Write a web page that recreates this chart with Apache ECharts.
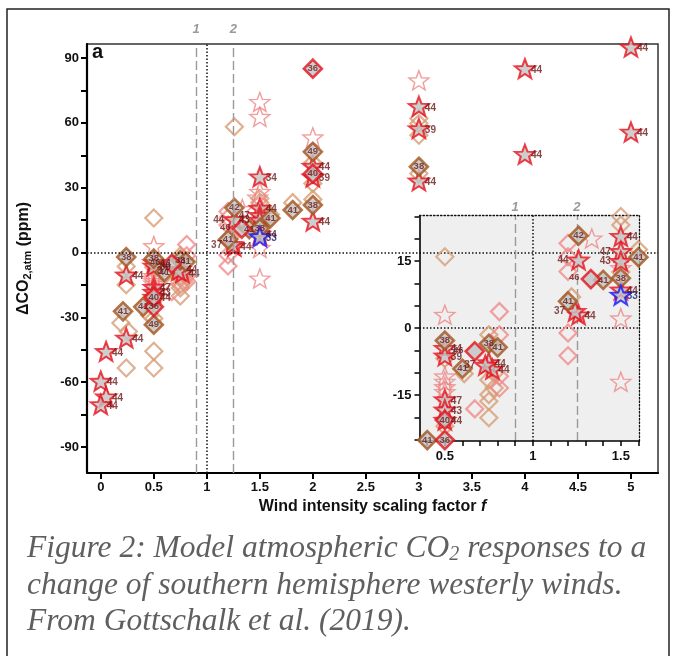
<!DOCTYPE html>
<html><head><meta charset="utf-8">
<script src="https://cdn.jsdelivr.net/npm/echarts@6/dist/echarts.min.js"></script>
<style>html,body{margin:0;padding:0;background:#fff}#c{width:677px;height:656px}</style>
</head><body><div id="c"></div>
<script>
// ---------- data ----------
const xTickLabels = [0,0.5,1,1.5,2,2.5,3,3.5,4,4.5,5];
const yTickLabels = [-90,-60,-30,0,30,60,90];
const yTicks = [-90,-75,-60,-45,-30,-15,0,15,30,45,60,75,90];
const insetXTickLabels = [0.5,1,1.5];
const insetXTicks = [0.4,0.5,0.6,0.7,0.8,0.9,1,1.1,1.2,1.3,1.4,1.5,1.6];
const insetYTickLabels = [-15,0,15];
const insetYTicks = [-25,-20,-15,-10,-5,0,5,10,15,20,25];
const refLines = [{f:0.9,label:'1'},{f:1.25,label:'2'}];

// [f, dCO2, run label]
const filledStars = [
 [0.0,-59.5,'44'],[0.05,-66.7,'44'],[0.0,-70.3,'44'],[0.05,-45.7,'44'],[0.24,-39.5,'44'],[0.24,-10.3,'44'],
 [0.5,-4.5,'44'],[0.5,-6.2,'39'],[0.5,-16.0,'47'],[0.5,-18.3,'43'],[0.5,-20.6,'44'],
 [0.75,-7.7,'44'],[0.77,-9.2,'44'],
 [1.26,3.0,'44'],[1.5,20.6,'44'],[1.5,8.6,'44'],
 [1.5,35.1,'34'],[2.0,40.0,'44'],[2.0,35.0,'39'],[2.0,14.6,'44'],
 [3.0,67.7,'44'],[3.0,57.4,'39'],[3.0,33.2,'44'],[4.0,85.1,'44'],[4.0,45.5,'44'],[5.0,95.1,'44'],[5.0,55.8,'44']
];
const filledStarsLabelLeft = [[1.26,15.3,'44'],[1.24,3.8,'37'],[1.5,17.2,'47'],[1.5,15.0,'43'],[0.73,-8.3,'37']];
const openStars = [[0.5,3.0],[0.5,-10.8],[0.5,-12.0],[0.5,-13.2],[0.5,-14.3],[1.5,2.2],[1.5,-12.0],[1.335,20.1],
 [1.5,13.5],[1.5,69.7],[1.5,62.8],[1.5,28.1],[1.48,25.5],[2.0,53.3],[3.0,79.7]];
const brownDiamonds = [
 [0.21,-27.2,'41'],[0.4,-25.1,'41'],[0.5,-33.4,'49'],[0.24,-2.1,'38'],[0.5,-2.8,'38'],[0.6,-9.1,'41'],[0.75,-3.5,'38'],[0.8,-4.3,'41'],
 [1.26,20.7,'42'],[1.4,10.8,'41'],[1.2,6.0,'41'],[1.5,11.2,'38'],[1.6,15.9,'41'],[1.81,19.7,'41'],[2.0,22.0,'38'],[2.0,46.6,'49'],[3.0,39.7,'38']
];
const redDiamonds = [[2.0,85.1,'36'],[0.5,-25.1,'36'],[0.5,-20.6,'40'],[2.0,36.5,'40']];
const redDiamondsLabelLeft = [[0.67,-5.2,'46'],[1.33,11.0,'46']];
const tanDiamonds = [[0.5,16.0],[0.24,-6.4],[0.24,-14.9],[0.19,-32.6],[0.26,-36.5],[0.24,-53.4],[0.5,-45.7],[0.5,-53.4],
 [0.5,-30.5],[0.46,-29],[0.5,-22.0],[0.5,-6.8],[0.75,-1.5],[0.75,-11.6],[0.75,-14.9],[0.75,-16.4],[0.75,-20.1],[0.78,-10.1],
 [0.78,-13.4],[0.61,-10.2],[1.22,7.0],[1.26,58.2],[1.5,25.0],[1.5,23.1],[1.5,12.6],[1.6,17.6],[1.81,23.1],[2.0,24.6],
 [2.0,32.0],[2.0,41.5],[3.0,62.0],[3.0,59.7],[3.0,54.3],[3.0,36.6]];
const pinkDiamonds = [[0.81,3.7],[0.81,-1.5],[0.81,-10.8],[0.81,-13.4],[0.67,-18.1],[1.2,19.0],[1.2,16.0],[1.2,12.7],[1.2,-1.1],[1.2,-6.2]];
const blueStars = [[1.5,7.4,'33']];

// ---------- styles ----------
function starPath(){
  let d='';
  for(let i=0;i<10;i++){
    const r = i%2 ? 21 : 50;
    const a = -Math.PI/2 + i*Math.PI/5;
    d += (i?'L':'M') + (50+r*Math.cos(a)).toFixed(2)+' '+(50+r*Math.sin(a)).toFixed(2)+' ';
  }
  return 'path://'+d+'Z';
}
const STAR = starPath();
const FONT = '"Liberation Sans Narrow","Liberation Sans",Arial,sans-serif';
const LABEL_COLOR = '#6a1a1a';
const GRAY = '#c2c2c2';

const chart = echarts.init(document.getElementById('c'), null, {renderer:'canvas'});

function mk(data, grid, kind){
  const base = {type:'scatter', xAxisIndex:grid, yAxisIndex:grid, clip:true, silent:true, animation:false,
    z: grid ? 5 : 2, data: data.map(d=>({value:[d[0],d[1]], name:d[2]||''}))};
  const starLab = {show:true, position:[17,7], align:'left', verticalAlign:'top', formatter:p=>p.name,
    fontSize:10, fontWeight:'bold', fontFamily:FONT, color:LABEL_COLOR};
  const starLabL = Object.assign({}, starLab, {position:[1,6], align:'right'});
  const diaLab = {show:true, position:'inside', formatter:p=>p.name, fontSize:9.5, fontWeight:'bold', fontFamily:FONT, color:LABEL_COLOR};
  switch(kind){
    case 'fstar': return Object.assign(base,{symbol:STAR, symbolSize:[20,19], itemStyle:{color:GRAY,borderColor:'#e8101a',borderWidth:2}, label:starLab});
    case 'fstarL': return Object.assign(base,{symbol:STAR, symbolSize:[20,19], itemStyle:{color:GRAY,borderColor:'#e8101a',borderWidth:2}, label:starLabL});
    case 'ostar': return Object.assign(base,{symbol:STAR, symbolSize:[20,19], itemStyle:{color:'rgba(0,0,0,0)',borderColor:'#ee8686',borderWidth:1.4}});
    case 'bstar': return Object.assign(base,{symbol:STAR, symbolSize:[20,19], itemStyle:{color:GRAY,borderColor:'#1414ff',borderWidth:2},
        label:Object.assign({},starLab,{color:'#1c1c70'})});
    case 'tan': return Object.assign(base,{symbol:'diamond', symbolSize:17, itemStyle:{color:'rgba(0,0,0,0)',borderColor:'#d69d76',borderWidth:2.2}});
    case 'pink': return Object.assign(base,{symbol:'diamond', symbolSize:17, itemStyle:{color:'rgba(0,0,0,0)',borderColor:'#f08a8a',borderWidth:2.2}});
    case 'brown': return Object.assign(base,{symbol:'diamond', symbolSize:18, itemStyle:{color:GRAY,borderColor:'#a3541c',borderWidth:2.6}, label:diaLab});
    case 'red': return Object.assign(base,{symbol:'diamond', symbolSize:18, itemStyle:{color:GRAY,borderColor:'#e3121c',borderWidth:2.6}, label:diaLab});
    case 'redL': return Object.assign(base,{symbol:'diamond', symbolSize:18, itemStyle:{color:GRAY,borderColor:'#e3121c',borderWidth:2.6},
        label:Object.assign({}, diaLab, {position:[-1,9], align:'right', verticalAlign:'middle'})});
  }
}

function refMarkLine(grid){
  const d = [];
  refLines.forEach(r=>d.push({xAxis:r.f, lineStyle:{color:'#9a9a9a',type:[9,4],width:1.4},
    label:{show:true, formatter:r.label, position:'end', distance: grid?2:8, color:'#9a9a9a', fontStyle:'italic', fontWeight:'bold', fontSize:13, fontFamily:FONT}}));
  d.push({xAxis:1, lineStyle:{color:'#111',type:[1.5,2],width:1.5}, label:{show:false}});
  d.push({yAxis:0, lineStyle:{color:'#111',type:[1.5,2],width:1.5}, label:{show:false}});
  return {silent:true, symbol:['none','none'], animation:false, data:d};
}

const kinds = [['tan',tanDiamonds],['pink',pinkDiamonds],['ostar',openStars],['fstar',filledStars],['fstarL',filledStarsLabelLeft],
  ['brown',brownDiamonds],['red',redDiamonds],['redL',redDiamondsLabelLeft],['bstar',blueStars]];
const series = [];
[0,1].forEach(g=>{
  series.push({type:'scatter', xAxisIndex:g, yAxisIndex:g, data:[], z: g?5:2, markLine:refMarkLine(g)});
  kinds.forEach(k=>series.push(mk(k[1], g, k[0])));
});

const tickFont = {fontFamily:FONT, fontWeight:'bold', fontSize:13, color:'#111'};

chart.setOption({
  animation:false,
  grid:[
    {left:87, top:44, width:571, height:429, show:true, borderColor:'#333', borderWidth:1.5, backgroundColor:'rgba(0,0,0,0)'},
    {left:419.5, top:215.7, width:219.8, height:225.3}
  ],
  xAxis:[
    {gridIndex:0, type:'value', min:-0.13, max:5.255, splitLine:{show:false},
     axisLine:{onZero:false, lineStyle:{color:'#000',width:2.2}},
     axisTick:{customValues:xTickLabels, length:6, lineStyle:{color:'#000',width:2}},
     axisLabel:Object.assign({customValues:xTickLabels, margin:8}, tickFont),
     name:'Wind intensity scaling factor {i|f}', nameLocation:'middle', nameGap:22,
     nameTextStyle:{fontFamily:FONT, fontWeight:'bold', fontSize:16, color:'#111',
       rich:{i:{fontFamily:FONT, fontStyle:'italic', fontWeight:'bold', fontSize:16, color:'#111'}}}},
    {gridIndex:1, type:'value', min:0.356, max:1.605, z:5, splitLine:{show:false},
     axisLine:{onZero:false, lineStyle:{color:'#000',width:1.6}},
     axisTick:{customValues:insetXTicks, length:5, lineStyle:{color:'#000',width:1.5}},
     axisLabel:Object.assign({customValues:insetXTickLabels, margin:9}, tickFont)},
    {gridIndex:1, type:'value', position:'top', min:0.356, max:1.605, z:5, splitLine:{show:false},
     axisLine:{onZero:false, lineStyle:{color:'#111',width:1.3,type:[1.5,2]}}, axisTick:{show:false}, axisLabel:{show:false}}
  ],
  yAxis:[
    {gridIndex:0, type:'value', min:-102, max:96.5, splitLine:{show:false},
     axisLine:{onZero:false, lineStyle:{color:'#000',width:2.2}},
     axisTick:{customValues:yTicks, length:6, lineStyle:{color:'#000',width:2}},
     axisLabel:Object.assign({customValues:yTickLabels, margin:8}, tickFont),
     name:'{a|ΔCO}{s|2,atm}{a| (ppm)}', nameLocation:'middle', nameGap:54, nameRotate:90,
     nameTextStyle:{rich:{a:{fontFamily:FONT, fontWeight:'bold', fontSize:16, color:'#111', lineHeight:18},
       s:{fontFamily:FONT, fontWeight:'bold', fontSize:11, color:'#111', verticalAlign:'bottom', lineHeight:12, padding:[8,0,0,0]}}}},
    {gridIndex:1, type:'value', min:-25.3, max:25.2, z:5, splitLine:{show:false},
     axisLine:{onZero:false, lineStyle:{color:'#000',width:1.6}},
     axisTick:{customValues:insetYTicks, length:5, lineStyle:{color:'#000',width:1.5}},
     axisLabel:Object.assign({customValues:insetYTickLabels, margin:8}, tickFont)},
    {gridIndex:1, type:'value', position:'right', min:-25.3, max:25.2, z:5, splitLine:{show:false},
     axisLine:{onZero:false, lineStyle:{color:'#111',width:1.3,type:[1.5,2]}}, axisTick:{show:false}, axisLabel:{show:false}}
  ],
  graphic:[
    {type:'rect', z:3, silent:true, shape:{x:419.5, y:215.7, width:219.8, height:225.3}, style:{fill:'#efefef'}},
    {type:'rect', z:0, silent:true, shape:{x:7, y:9, width:662, height:700}, style:{fill:'none', stroke:'#222', lineWidth:1.5}},
    {type:'text', z:6, left:92, top:42, style:{text:'a', font:'bold 20px '+FONT, fill:'#111'}},
    {type:'text', z:6, left:27, top:533, style:{
      text:'{a|Figure 2: Model atmospheric CO}{s|2}{a| responses to a}\n{a|change of southern hemisphere westerly winds.}\n{a|From Gottschalk et al. (2019).}',
      rich:{a:{font:'italic 31.5px "Liberation Serif","Times New Roman",serif', fill:'#5f5f5f', lineHeight:36.5},
            s:{font:'italic 20px "Liberation Serif","Times New Roman",serif', fill:'#5f5f5f', lineHeight:36.5, padding:[12,0,0,0]}}}}
  ],
  series: series
});
</script></body></html>
